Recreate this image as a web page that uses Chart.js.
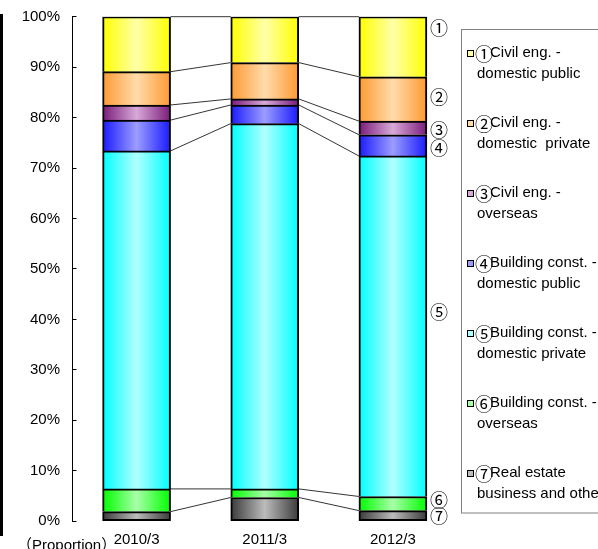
<!DOCTYPE html>
<html><head><meta charset="utf-8">
<script src="https://cdn.jsdelivr.net/npm/chart.js@4/dist/chart.umd.min.js"></script>
<style>html,body{margin:0;padding:0;background:#fff;overflow:hidden}canvas{display:block}</style>
</head><body><canvas id="c" width="598" height="549"></canvas>
<script>
// ---- data ----
const categories = ['2010/3', '2011/3', '2012/3'];
const civilPublic   = [10.9, 9.1, 11.9];   // ①
const civilPrivate  = [6.6, 7.2, 8.8];     // ②
const civilOverseas = [3.0, 1.2, 2.7];     // ③
const buildPublic   = [6.1, 3.7, 4.2];     // ④
const buildPrivate  = [67.0, 72.4, 67.5];  // ⑤
const buildOverseas = [4.5, 1.7, 2.8];     // ⑥
const realEstate    = [1.9, 4.7, 2.1];     // ⑦
const seriesMarks = ['①', '②', '③', '④', '⑤', '⑥', '⑦'];
const seriesNames = [
  ['Civil eng. -', 'domestic public'],
  ['Civil eng. -', 'domestic  private'],
  ['Civil eng. -', 'overseas'],
  ['Building const. -', 'domestic public'],
  ['Building const. -', 'domestic private'],
  ['Building const. -', 'overseas'],
  ['Real estate', 'business and others']
];
const yTickValues = [0, 10, 20, 30, 40, 50, 60, 70, 80, 90, 100];
const axisNote = '（Proportion）';

// ---- styles ----
const FONT = '"Liberation Sans", Arial, "Noto Sans CJK JP", sans-serif';
const MARK_FONT = '18px "Noto Sans CJK JP", "DejaVu Sans", sans-serif';
const edgeColors = ['#ffff00', '#ff9933', '#7a1a7a', '#1a1aff', '#00ffff', '#00ff00', '#3a3a3a'];
const midColors  = ['#ffffa8', '#ffdcaa', '#d8aad8', '#9c9cff', '#b0ffff', '#a8ffa8', '#bcbcbc'];
const labelNudge = [-20, -3, 1, 2, -15, -4, 0];
const BAR_W = 68;

const seriesValues = [civilPublic, civilPrivate, civilOverseas, buildPublic, buildPrivate, buildOverseas, realEstate];

function grad(k) {
  return (ctx) => {
    const chart = ctx.chart;
    const xs = chart.scales && chart.scales.x;
    if (!xs || ctx.dataIndex === undefined) return midColors[k];
    const cx = xs.getPixelForValue(ctx.dataIndex);
    if (!isFinite(cx)) return midColors[k];
    const h = BAR_W / 2;
    const g = chart.ctx.createLinearGradient(cx - h, 0, cx + h, 0);
    g.addColorStop(0, edgeColors[k]);
    g.addColorStop(0.5, midColors[k]);
    g.addColorStop(1, edgeColors[k]);
    return g;
  };
}

// datasets bottom-first (⑦ at bottom, ① on top)
const datasets = [];
for (let k = seriesValues.length - 1; k >= 0; k--) {
  datasets.push({
    label: seriesMarks[k] + seriesNames[k].join(' '),
    data: seriesValues[k],
    seriesIndex: k,
    backgroundColor: grad(k),
    borderColor: '#000',
    borderWidth: 2,
    borderSkipped: k === seriesValues.length - 1 ? false : 'start',
    barThickness: BAR_W
  });
}

const decor = {
  id: 'decor',
  afterDatasetsDraw(chart) {
    const c = chart.ctx;
    c.save();
    c.strokeStyle = '#000';
    c.lineWidth = 0.8;
    chart.data.datasets.forEach((ds, di) => {
      const meta = chart.getDatasetMeta(di);
      for (let i = 0; i < meta.data.length - 1; i++) {
        const a = meta.data[i], b = meta.data[i + 1];
        c.beginPath();
        c.moveTo(a.x + a.width / 2, a.y);
        c.lineTo(b.x - b.width / 2, b.y);
        c.stroke();
      }
    });
    c.restore();
  },
  afterDraw(chart) {
    const c = chart.ctx;
    c.save();
    c.fillStyle = '#000';
    c.font = MARK_FONT;
    c.textAlign = 'center';
    c.textBaseline = 'middle';
    chart.data.datasets.forEach((ds, di) => {
      const meta = chart.getDatasetMeta(di);
      const el = meta.data[meta.data.length - 1];
      const k = ds.seriesIndex;
      const y = (el.y + el.base) / 2 + labelNudge[k];
      c.fillText(seriesMarks[k], el.x + el.width / 2 + 12, y + 1);
    });
    c.fillRect(0, 14, 3, 522);
    c.font = '15px ' + FONT;
    c.textAlign = 'left';
    c.fillText(axisNote, 17, 546);
    c.strokeStyle = '#808080';
    c.lineWidth = 1;
    c.strokeRect(461.5, 29.5, 200, 483.5);
    seriesNames.forEach((lines, k) => {
      const y = 53 + 70 * k;
      c.fillStyle = '#000';
      c.fillRect(467, y - 3, 7, 7);
      c.fillStyle = midColors[k];
      c.fillRect(468, y - 2, 5, 5);
      c.fillStyle = '#000';
      c.font = MARK_FONT;
      c.fillText(seriesMarks[k], 475, y + 1);
      const mw = c.measureText(seriesMarks[k]).width;
      c.font = '15px ' + FONT;
      c.fillText(lines[0], 475 + Math.min(mw, 15), y);
      c.fillText(lines[1], 477, y + 21);
    });
    c.restore();
  }
};

new Chart(document.getElementById('c'), {
  type: 'bar',
  data: { labels: categories, datasets },
  plugins: [decor],
  options: {
    responsive: false,
    animation: false,
    devicePixelRatio: 1,
    layout: { padding: { top: 16.7, right: 141, bottom: 0, left: 0 } },
    plugins: { legend: { display: false }, tooltip: { enabled: false } },
    scales: {
      x: {
        stacked: true,
        grid: { display: false },
        border: { display: false },
        ticks: { color: '#000', font: { family: FONT, size: 15 }, padding: 1.5, maxRotation: 0 },
        afterFit(s) { s.height = 27.8; s.paddingLeft = 0; s.paddingRight = 0; }
      },
      y: {
        stacked: true,
        min: 0, max: 100,
        afterBuildTicks(s) { s.ticks = yTickValues.map(v => ({ value: v })); },
        ticks: { color: '#000', font: { family: FONT, size: 15 }, padding: 16.5, callback: v => v + '%' },
        grid: { drawOnChartArea: false, tickLength: -4, color: '#000', lineWidth: 1 },
        border: { color: '#000', width: 1 },
        afterFit(s) { s.width = 72.5; s.paddingTop = 0; s.paddingBottom = 0; }
      }
    }
  }
});
</script>
</body></html>
